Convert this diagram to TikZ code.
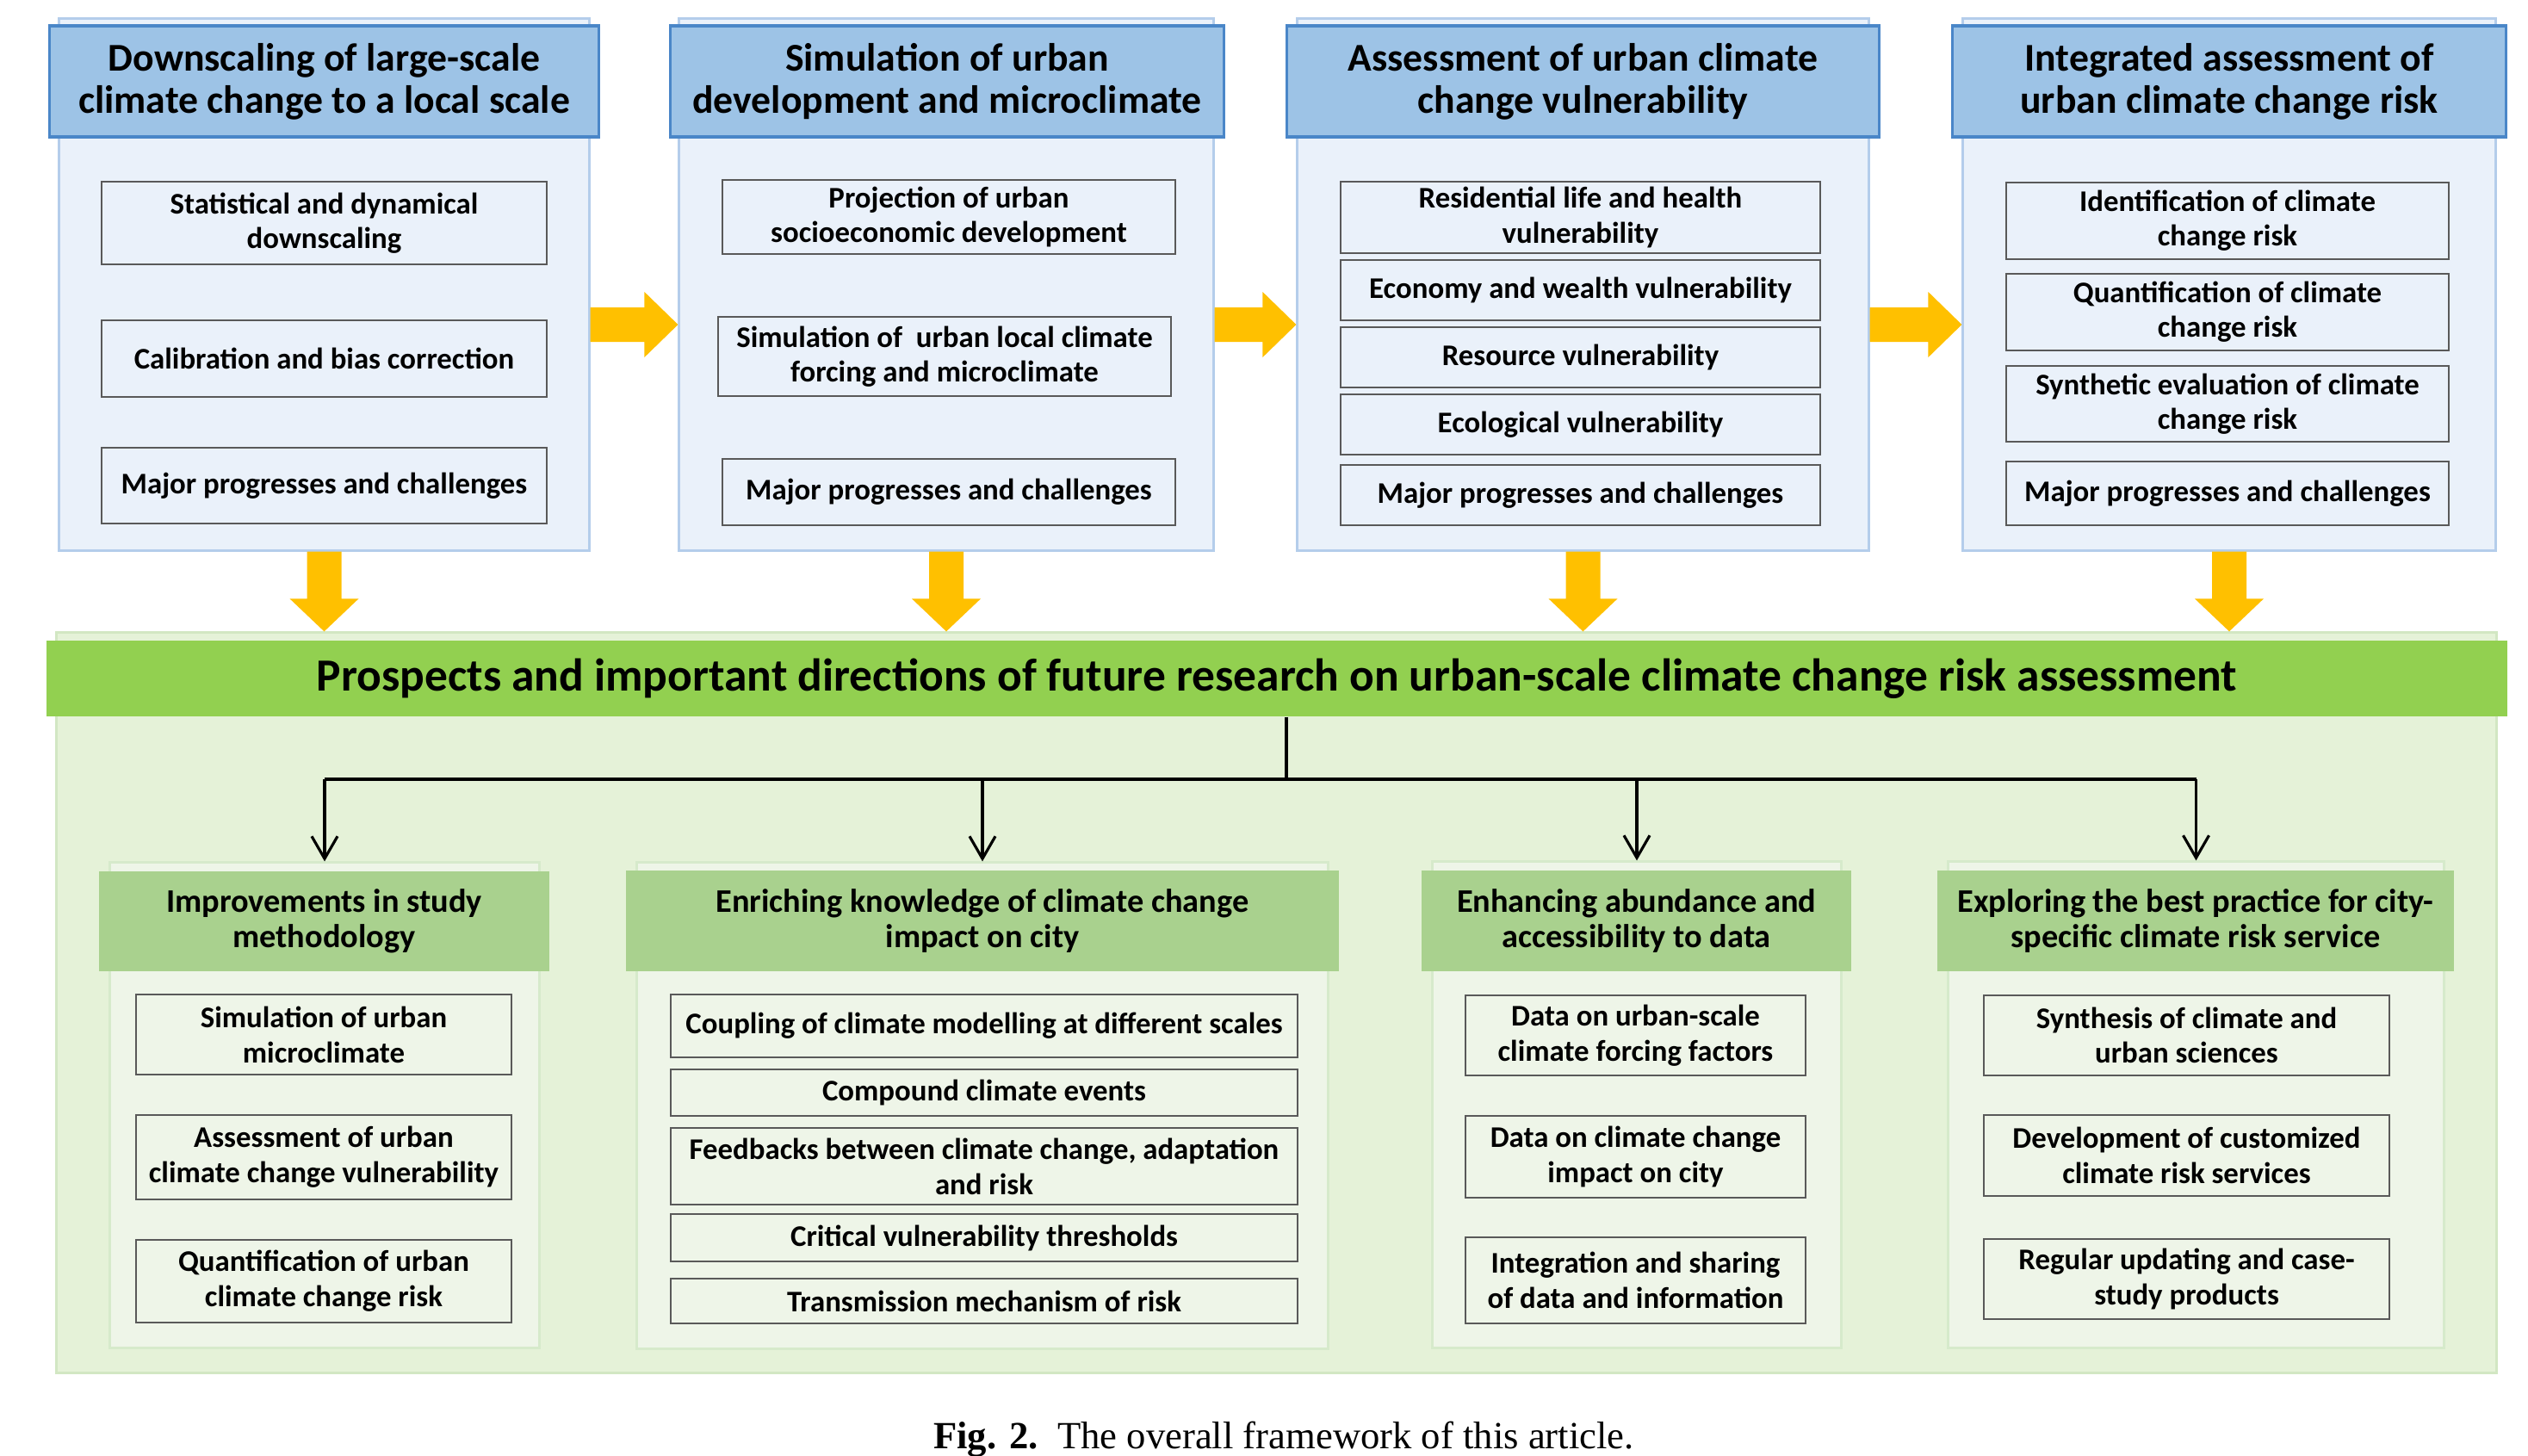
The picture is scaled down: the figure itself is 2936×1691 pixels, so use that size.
\documentclass[tikz,border=0pt]{standalone}
\usepackage{fontspec}
\setmainfont{Carlito}
\newfontfamily\capfont{Liberation Serif}
\usetikzlibrary{calc,arrows.meta}
\definecolor{thfill}{HTML}{9DC3E6}
\definecolor{thdraw}{HTML}{4A86C8}
\definecolor{tbgfill}{HTML}{EAF1FA}
\definecolor{tbgdraw}{HTML}{B4CDEB}
\definecolor{subdraw}{HTML}{595959}
\definecolor{yel}{HTML}{FFC000}
\definecolor{gbgfill}{HTML}{E5F2D8}
\definecolor{gbgdraw}{HTML}{D2E7C3}
\definecolor{banner}{HTML}{92D050}
\definecolor{bhfill}{HTML}{A9D18E}
\definecolor{bbgfill}{HTML}{EEF5E8}
\definecolor{bbgdraw}{HTML}{D6EACB}
\begin{document}
\begin{tikzpicture}[x=0.01cm,y=-0.01cm,
  tbg/.style={draw=tbgdraw,fill=tbgfill,line width=0.8pt,inner sep=0pt},
  thead/.style={draw=thdraw,fill=thfill,line width=0.9pt,inner sep=0pt,align=center,
    font=\bfseries\fontsize{13}{13.9}\selectfont},
  tsub/.style={draw=subdraw,line width=0.6pt,inner sep=0pt,align=center,
    font=\bfseries\fontsize{9.9}{11.4}\selectfont},
  gbg/.style={draw=gbgdraw,fill=gbgfill,line width=0.8pt,inner sep=0pt},
  bann/.style={fill=banner,inner sep=0pt,align=center,
    font=\bfseries\fontsize{15.2}{17}\selectfont},
  bbg/.style={draw=bbgdraw,fill=bbgfill,line width=0.8pt,inner sep=0pt},
  bhead/.style={fill=bhfill,inner sep=0pt,align=center,
    font=\bfseries\fontsize{10.9}{11.7}\selectfont},
  bsub/.style={draw=subdraw,line width=0.6pt,inner sep=0pt,align=center,
    font=\bfseries\fontsize{9.9}{11.6}\selectfont},
  yarr/.style={fill=yel},
  conn/.style={line width=0.9pt,-{Straight Barb[length=0.26cm,width=0.3cm,line width=0.9pt]}}
]
\useasboundingbox (0,0) rectangle (2936,1691);
\fill[white] (0,0) rectangle (2936,1691);

% ===== top columns =====
\node[tbg,minimum width=6.15cm,minimum height=6.17cm] (bg1) at (376.5,330.5) {};
\node[tbg,minimum width=6.20cm,minimum height=6.17cm] (bg2) at (1099,330.5) {};
\node[tbg,minimum width=6.63cm,minimum height=6.17cm] (bg3) at (1838.5,330.5) {};
\node[tbg,minimum width=6.18cm,minimum height=6.17cm] (bg4) at (2589,330.5) {};

\node[thead,minimum width=6.37cm,minimum height=1.29cm] (h1) at (376.5,94.5) {Downscaling of large-scale\\climate change to a local scale};
\node[thead,minimum width=6.42cm,minimum height=1.29cm] (h2) at (1100,94.5) {Simulation of urban\\development and microclimate};
\node[thead,minimum width=6.87cm,minimum height=1.29cm] (h3) at (1838.5,94.5) {Assessment of urban climate\\change vulnerability};
\node[thead,minimum width=6.42cm,minimum height=1.29cm] (h4) at (2589,94.5) {Integrated assessment of\\urban climate change risk};

% col 1 subs
\node[tsub,minimum width=5.17cm,minimum height=0.96cm] (s1a) at (376.5,259) {Statistical and dynamical\\downscaling};
\node[tsub,minimum width=5.17cm,minimum height=0.89cm] (s1b) at (376.5,416.5) {Calibration and bias correction};
\node[tsub,minimum width=5.17cm,minimum height=0.88cm] (s1c) at (376.5,564) {Major progresses and challenges};
% col 2 subs
\node[tsub,minimum width=5.26cm,minimum height=0.86cm] (s2a) at (1102,252) {Projection of urban\\socioeconomic development};
\node[tsub,minimum width=5.26cm,minimum height=0.92cm] (s2b) at (1097,414) {Simulation of\ \ urban local climate\\forcing and microclimate};
\node[tsub,minimum width=5.26cm,minimum height=0.77cm] (s2c) at (1102,571.5) {Major progresses and challenges};
% col 3 subs
\node[tsub,minimum width=5.57cm,minimum height=0.83cm] (s3a) at (1835.5,252.5) {Residential life and health\\vulnerability};
\node[tsub,minimum width=5.57cm,minimum height=0.70cm] (s3b) at (1835.5,337) {Economy and wealth vulnerability};
\node[tsub,minimum width=5.57cm,minimum height=0.70cm] (s3c) at (1835.5,415) {Resource vulnerability};
\node[tsub,minimum width=5.57cm,minimum height=0.70cm] (s3d) at (1835.5,493) {Ecological vulnerability};
\node[tsub,minimum width=5.57cm,minimum height=0.70cm] (s3e) at (1835.5,575) {Major progresses and challenges};
% col 4 subs
\node[tsub,minimum width=5.14cm,minimum height=0.89cm] (s4a) at (2587,256.5) {Identification of climate\\change risk};
\node[tsub,minimum width=5.14cm,minimum height=0.89cm] (s4b) at (2587,362.5) {Quantification of climate\\change risk};
\node[tsub,minimum width=5.14cm,minimum height=0.88cm] (s4c) at (2587,469) {Synthetic evaluation of climate\\change risk};
\node[tsub,minimum width=5.14cm,minimum height=0.74cm] (s4d) at (2587,573) {Major progresses and challenges};

% ===== bottom big area =====
\node[gbg,minimum width=28.33cm,minimum height=8.59cm] (big) at (1482.5,1164.5) {};
\node[bann,minimum width=28.56cm,minimum height=0.88cm] (ban) at (1483,788) {Prospects and important directions of future research on urban-scale climate change risk assessment};

% right yellow arrows
\foreach \a/\b in {bg1/bg2,bg2/bg3,bg3/bg4}{
  \fill[yarr] ($(\a.east)+(0,26.5)$) -- ($(\b.west)+(-39,26.5)$) -- ($(\b.west)+(-39,8.5)$)
    -- ($(\b.west)+(0,46.5)$) -- ($(\b.west)+(-39,84.5)$) -- ($(\b.west)+(-39,66.5)$)
    -- ($(\a.east)+(0,66.5)$) -- cycle;
}
% down yellow arrows
\foreach \a in {bg1,bg2,bg3,bg4}{
  \coordinate (tip) at (\a.south |- big.north);
  \fill[yarr] ($(\a.south)+(-20,0)$) -- ($(tip)+(-20,-38)$) -- ($(tip)+(-40,-38)$) -- (tip)
    -- ($(tip)+(40,-38)$) -- ($(tip)+(20,-38)$) -- ($(\a.south)+(20,0)$) -- cycle;
}

% bottom columns
\node[bbg,minimum width=4.98cm,minimum height=5.63cm] (bA) at (377,1283.5) {};
\node[bbg,minimum width=8.02cm,minimum height=5.64cm] (bB) at (1141,1284) {};
\node[bbg,minimum width=4.74cm,minimum height=5.64cm] (bC) at (1901,1283) {};
\node[bbg,minimum width=5.75cm,minimum height=5.64cm] (bD) at (2550.5,1283) {};

\node[bhead,minimum width=5.23cm,minimum height=1.16cm] (hA) at (376.5,1070) {Improvements in study\\methodology};
\node[bhead,minimum width=8.28cm,minimum height=1.17cm] (hB) at (1141,1069.5) {Enriching knowledge of climate change\\impact on city};
\node[bhead,minimum width=4.99cm,minimum height=1.17cm] (hC) at (1900.5,1069.5) {Enhancing abundance and\\accessibility to data};
\node[bhead,minimum width=6.00cm,minimum height=1.17cm] (hD) at (2550,1069.5) {Exploring the best practice for city-\\specific climate risk service};

% col A subs
\node[bsub,minimum width=4.36cm,minimum height=0.93cm] (sAa) at (376,1201.5) {Simulation of urban\\microclimate};
\node[bsub,minimum width=4.36cm,minimum height=0.98cm] (sAb) at (376,1344) {Assessment of urban\\climate change vulnerability};
\node[bsub,minimum width=4.36cm,minimum height=0.96cm] (sAc) at (376,1488) {Quantification of urban\\climate change risk};
% col B subs
\node[bsub,minimum width=7.28cm,minimum height=0.73cm] (sBa) at (1143,1191.5) {Coupling of climate modelling at different scales};
\node[bsub,minimum width=7.28cm,minimum height=0.54cm] (sBb) at (1143,1269) {Compound climate events};
\node[bsub,minimum width=7.28cm,minimum height=0.89cm] (sBc) at (1143,1354.5) {Feedbacks between climate change, adaptation\\and risk};
\node[bsub,minimum width=7.28cm,minimum height=0.55cm] (sBd) at (1143,1437.5) {Critical vulnerability thresholds};
\node[bsub,minimum width=7.28cm,minimum height=0.52cm] (sBe) at (1143,1511) {Transmission mechanism of risk};
% col C subs
\node[bsub,minimum width=3.95cm,minimum height=0.93cm] (sCa) at (1899.5,1202.5) {Data on urban-scale\\climate forcing factors};
\node[bsub,minimum width=3.95cm,minimum height=0.95cm] (sCb) at (1899.5,1343.5) {Data on climate change\\impact on city};
\node[bsub,minimum width=3.95cm,minimum height=1.00cm] (sCc) at (1899.5,1487) {Integration and sharing\\of data and information};
% col D subs
\node[bsub,minimum width=4.71cm,minimum height=0.93cm] (sDa) at (2539.5,1202.5) {Synthesis of climate and\\urban sciences};
\node[bsub,minimum width=4.71cm,minimum height=0.94cm] (sDb) at (2539.5,1342) {Development of customized\\climate risk services};
\node[bsub,minimum width=4.71cm,minimum height=0.93cm] (sDc) at (2539.5,1485.5) {Regular updating and case-\\study products};

% black connectors
\coordinate (hub) at (1494,905);
\draw[line width=0.9pt] (hub |- ban.south) -- (hub);
\draw[line width=1.3pt] (bA.north |- hub) -- (bD.north |- hub);
\foreach \c in {bA,bB,bC,bD}{
  \draw[conn] (\c.north |- hub) -- (\c.north);
}

% caption
\node[anchor=base,font=\capfont\fontsize{12.7}{15}\selectfont] (cap) at (1491,1682) {\textbf{Fig. 2.}\ \ The overall framework of this article.};
\end{tikzpicture}
\end{document}
